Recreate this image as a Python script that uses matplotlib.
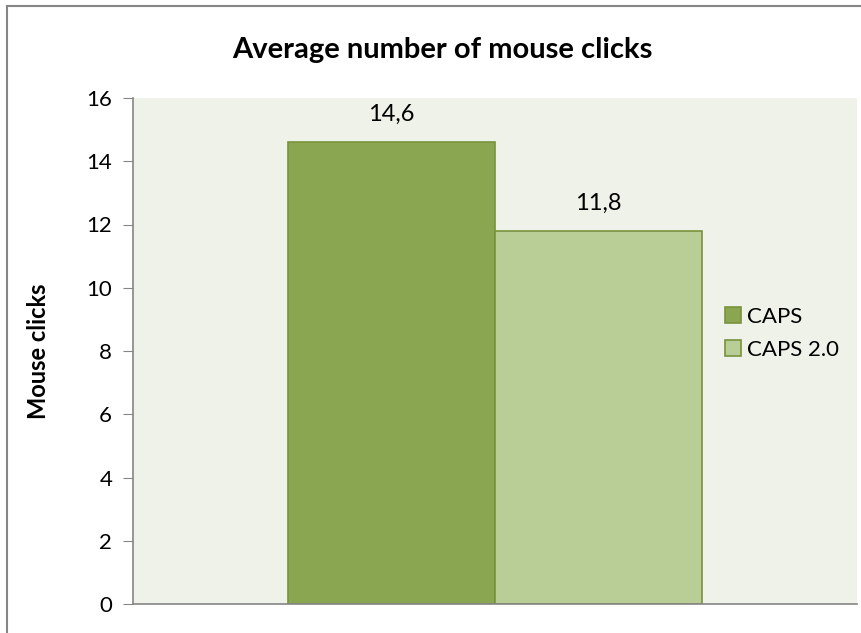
import matplotlib
matplotlib.use('Agg')
import matplotlib.pyplot as plt
from matplotlib.lines import Line2D

series = ['CAPS', 'CAPS 2.0']
values = [14.6, 11.8]
labels = ['14,6', '11,8']
colors = ['#8AA650', '#B9CE96']
yticks = [0, 2, 4, 6, 8, 10, 12, 14, 16]

plt.rcParams['font.family'] = ['Lato', 'DejaVu Sans']

fig = plt.figure(figsize=(8.62, 6.33), dpi=100)
ax = fig.add_axes([133 / 862, 1 - 604 / 633, 724 / 862, 506 / 633])
ax.set_facecolor('#EFF2E8')

width = 0.286
offsets = [-width / 2, width / 2]
for name, val, lab, col, off in zip(series, values, labels, colors, offsets):
    ax.bar(off, val, width=width, color=col, edgecolor='#77933C',
           linewidth=1.2, label=name)
    ax.text(off, val + 0.55, lab, ha='center', va='bottom', fontsize=17)

ax.set_xlim(-0.5, 0.5)
ax.set_ylim(0, 16)
ax.set_yticks(yticks)
ax.set_xticks([])
ax.tick_params(axis='y', direction='out', length=7, color='#868686',
               labelsize=16, pad=8)
for s in ['top', 'right']:
    ax.spines[s].set_visible(False)
for s in ['left', 'bottom']:
    ax.spines[s].set_color('#868686')
    ax.spines[s].set_linewidth(1.2)

ax.set_ylabel('Mouse clicks', fontsize=17, fontweight='bold', labelpad=26)
fig.text(442 / 862, 1 - 50 / 633, 'Average number of mouse clicks',
         ha='center', va='center', fontsize=21, fontweight='bold')

ax.legend(loc='center left', bbox_to_anchor=(0.79, 0.535), frameon=False,
          fontsize=16, handlelength=0.7, handleheight=0.7,
          handletextpad=0.3, labelspacing=0.6)

# chart border (left and top edges visible)
fig.add_artist(Line2D([7 / 862, 7 / 862], [0, 1 - 6 / 633],
                      color='#868686', linewidth=1.5, transform=fig.transFigure))
fig.add_artist(Line2D([7 / 862, 1], [1 - 6 / 633, 1 - 6 / 633],
                      color='#868686', linewidth=1.5, transform=fig.transFigure))

fig.savefig('out.png', dpi=100)
